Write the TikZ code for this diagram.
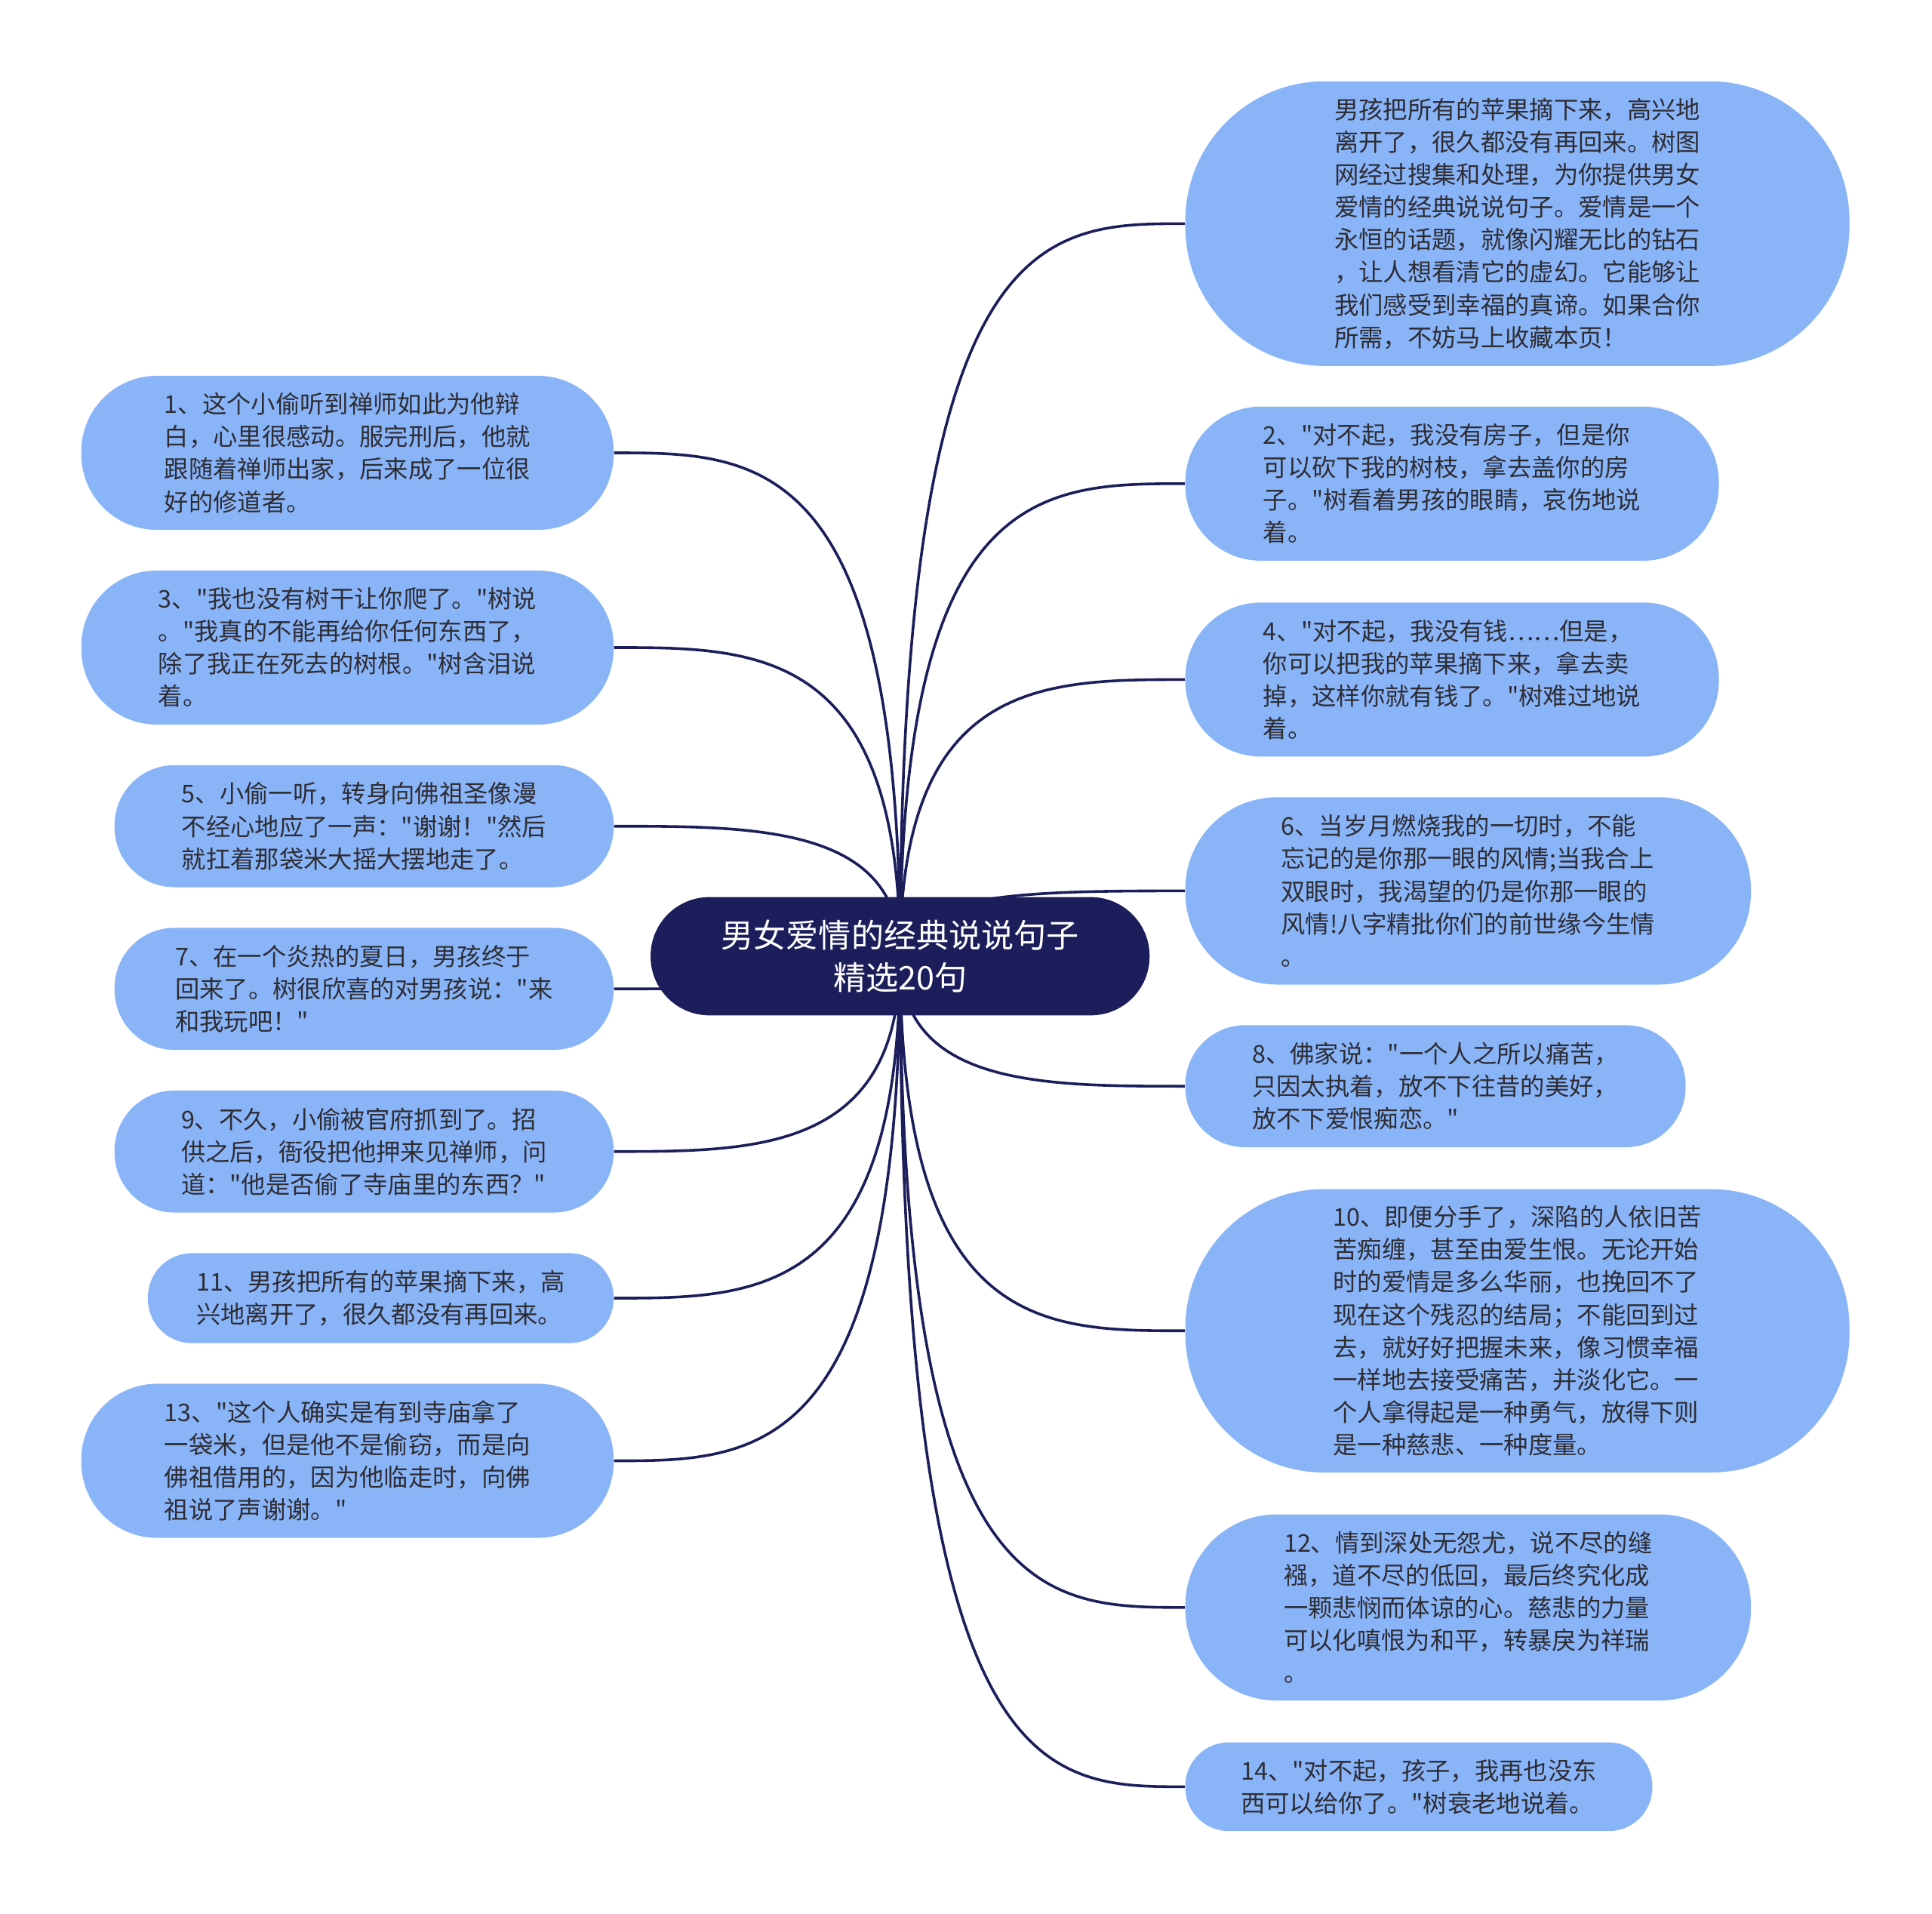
\documentclass[tikz,border=0pt]{standalone}
\usepackage{fontspec}
\newfontfamily\cjk{Noto Sans CJK SC}
\usetikzlibrary{calc,backgrounds}
\definecolor{navy}{RGB}{28,30,92}
\definecolor{leaf}{RGB}{138,180,248}
\definecolor{ink}{RGB}{45,45,52}
\tikzset{
  leafnode/.style={fill=leaf, text=ink, align=left, inner sep=0pt,
    font=\cjk\fontsize{9.9pt}{13.2pt}\selectfont},
  rootnode/.style={fill=navy, text=white, align=center, inner sep=0pt,
    font=\cjk\fontsize{13.2pt}{17pt}\selectfont,
    minimum width=202.5pt, minimum height=48pt, rounded corners=23.9pt},
  edge/.style={draw=navy, line width=1.1pt},
  box/.style args={#1x#2}{minimum width=#1*0.5pt, minimum height=#2*0.5pt, rounded corners=#2*0.245pt}
}
\newcommand{\toright}[1]{\draw[edge] (c.center) .. controls (c.center |- #1.west) and ($(c.center |- #1.west)!0.5!(#1.west)$) .. (#1.west);}
\newcommand{\toleft}[1]{\draw[edge] (c.center) .. controls (c.center |- #1.east) and ($(c.center |- #1.east)!0.5!(#1.east)$) .. (#1.east);}
\begin{document}
\begin{tikzpicture}[x=0.5pt,y=-0.5pt]
\useasboundingbox (0,0) rectangle (1568,1553);

\node[rootnode] (c) at (730.5,776) {男女爱情的经典说说句子\\精选20句};

% right side
\node[leafnode, box=539x231] (n0) at (1231.5,181.5) {男孩把所有的苹果摘下来，高兴地\\离开了，很久都没有再回来。树图\\网经过搜集和处理，为你提供男女\\爱情的经典说说句子。爱情是一个\\永恒的话题，就像闪耀无比的钻石\\，让人想看清它的虚幻。它能够让\\我们感受到幸福的真谛。如果合你\\所需，不妨马上收藏本页！};
\node[leafnode, box=433x125] (n2) at (1178.5,392.5) {2、"对不起，我没有房子，但是你\\可以砍下我的树枝，拿去盖你的房\\子。"树看着男孩的眼睛，哀伤地说\\着。};
\node[leafnode, box=433x125] (n4) at (1178.5,551.5) {4、"对不起，我没有钱……但是，\\你可以把我的苹果摘下来，拿去卖\\掉，这样你就有钱了。"树难过地说\\着。};
\node[leafnode, box=459x152] (n6) at (1191.5,723) {6、当岁月燃烧我的一切时，不能\\忘记的是你那一眼的风情;当我合上\\双眼时，我渴望的仍是你那一眼的\\风情!八字精批你们的前世缘今生情\\。};
\node[leafnode, box=406x99] (n8) at (1165,881.5) {8、佛家说："一个人之所以痛苦，\\只因太执着，放不下往昔的美好，\\放不下爱恨痴恋。"};
\node[leafnode, box=539x230] (n10) at (1231.5,1080) {10、即便分手了，深陷的人依旧苦\\苦痴缠，甚至由爱生恨。无论开始\\时的爱情是多么华丽，也挽回不了\\现在这个残忍的结局；不能回到过\\去，就好好把握未来，像习惯幸福\\一样地去接受痛苦，并淡化它。一\\个人拿得起是一种勇气，放得下则\\是一种慈悲、一种度量。};
\node[leafnode, box=459x151] (n12) at (1191.5,1304.5) {12、情到深处无怨尤，说不尽的缝\\襁，道不尽的低回，最后终究化成\\一颗悲悯而体谅的心。慈悲的力量\\可以化嗔恨为和平，转暴戾为祥瑞\\。};
\node[leafnode, box=379x72] (n14) at (1151.5,1450) {14、"对不起，孩子，我再也没东\\西可以给你了。"树衰老地说着。};

% left side
\node[leafnode, box=432x125] (n1) at (282,367.5) {1、这个小偷听到禅师如此为他辩\\白，心里很感动。服完刑后，他就\\跟随着禅师出家，后来成了一位很\\好的修道者。};
\node[leafnode, box=432x125] (n3) at (282,525.5) {3、"我也没有树干让你爬了。"树说\\。"我真的不能再给你任何东西了，\\除了我正在死去的树根。"树含泪说\\着。};
\node[leafnode, box=405x99] (n5) at (295.5,670.5) {5、小偷一听，转身向佛祖圣像漫\\不经心地应了一声："谢谢！"然后\\就扛着那袋米大摇大摆地走了。};
\node[leafnode, box=405x99] (n7) at (295.5,802.5) {7、在一个炎热的夏日，男孩终于\\回来了。树很欣喜的对男孩说："来\\和我玩吧！"};
\node[leafnode, box=405x99] (n9) at (295.5,934.5) {9、不久，小偷被官府抓到了。招\\供之后，衙役把他押来见禅师，问\\道："他是否偷了寺庙里的东西？"};
\node[leafnode, box=378x73] (n11) at (309,1053.5) {11、男孩把所有的苹果摘下来，高\\兴地离开了，很久都没有再回来。};
\node[leafnode, box=432x125] (n13) at (282,1185.5) {13、"这个人确实是有到寺庙拿了\\一袋米，但是他不是偷窃，而是向\\佛祖借用的，因为他临走时，向佛\\祖说了声谢谢。"};

\begin{pgfonlayer}{background}
\fill[white] (0,0) rectangle (1568,1553);
\toright{n0}\toright{n2}\toright{n4}\toright{n6}\toright{n8}\toright{n10}\toright{n12}\toright{n14}
\toleft{n1}\toleft{n3}\toleft{n5}\toleft{n7}\toleft{n9}\toleft{n11}\toleft{n13}
\end{pgfonlayer}
\end{tikzpicture}
\end{document}
